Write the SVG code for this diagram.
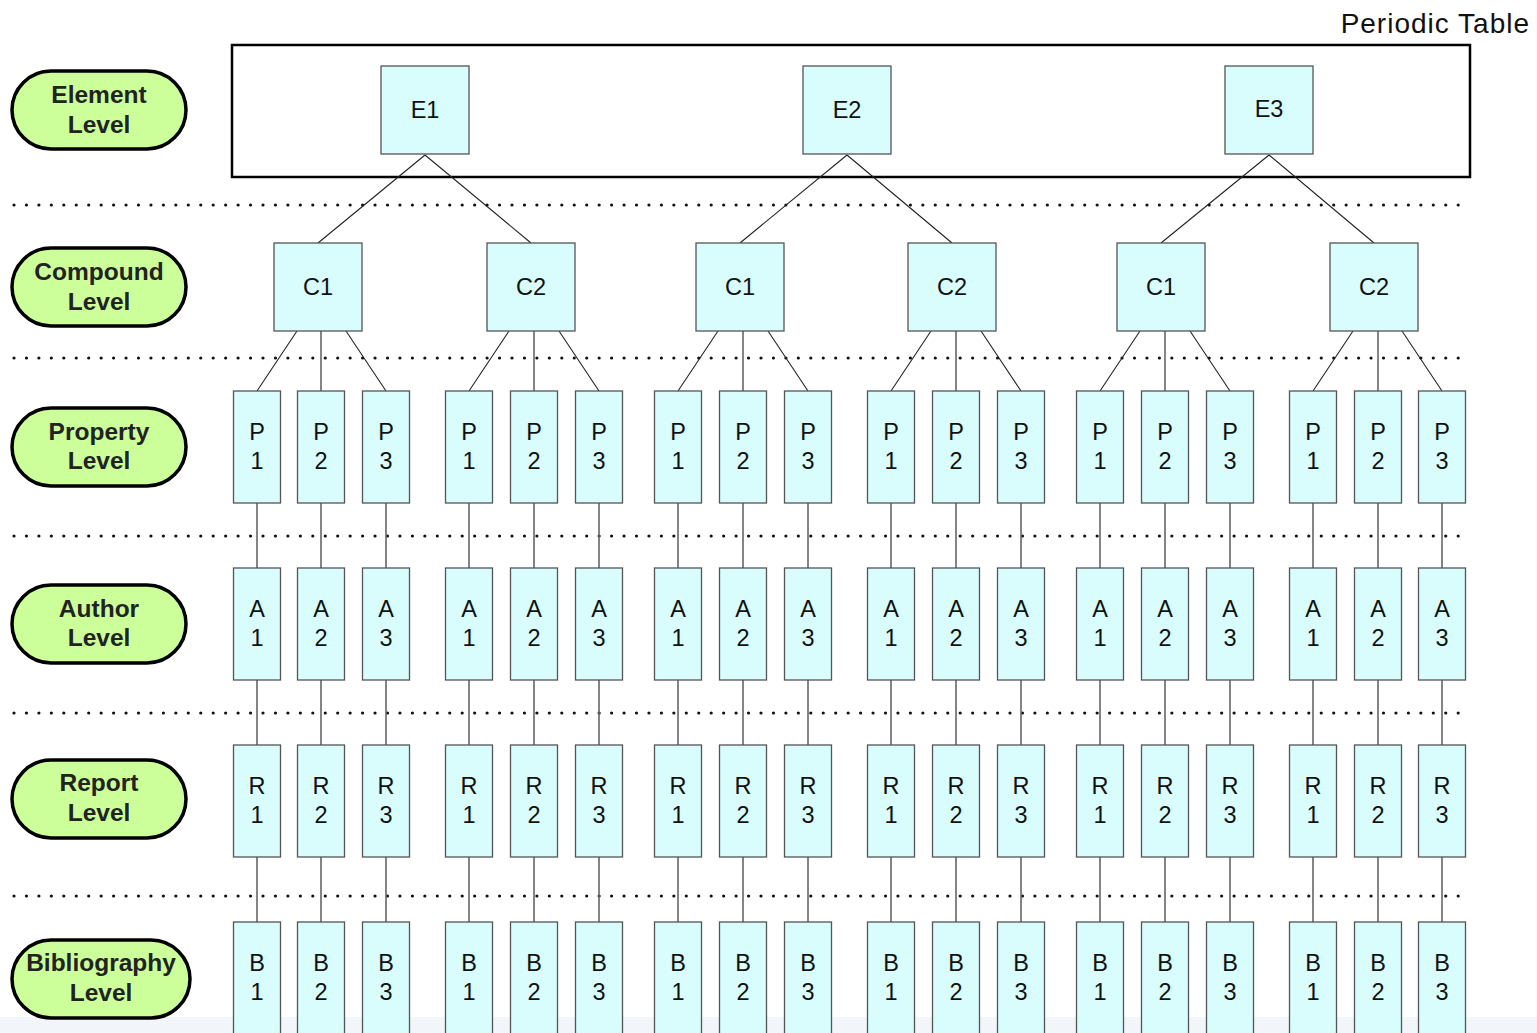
<svg xmlns="http://www.w3.org/2000/svg" width="1537" height="1033" viewBox="0 0 1537 1033">
<style>
.pill{fill:#ccff99;stroke:#000;stroke-width:3.5}
.pt{font-family:"Liberation Sans",Arial,sans-serif;font-weight:bold;font-size:24.5px;fill:#222;text-anchor:middle}
.bx{fill:#d9fdfd;stroke:#555;stroke-width:1.3}
.bt{font-family:"Liberation Sans",Arial,sans-serif;font-size:23.5px;fill:#111;text-anchor:middle}
.dot{stroke:#111;stroke-width:3.2;stroke-linecap:round;stroke-dasharray:0 12.45;fill:none}
.ln{stroke:#222;stroke-width:1.1;fill:none}
.vl{stroke:#666;stroke-width:1.6;fill:none}
</style>
<rect width="1537" height="1033" fill="#fff"/>
<rect x="0" y="1017" width="1537" height="16" fill="#f2f6fa"/>
<text x="1530" y="33" font-family="Liberation Sans,Arial,sans-serif" font-size="28" letter-spacing="1" fill="#111" text-anchor="end">Periodic Table</text>
<rect id="periodic-table" x="232" y="45" width="1238" height="132" fill="none" stroke="#000" stroke-width="2.5"/>
<g id="separators">
<line class="dot" x1="14" y1="205" x2="1468" y2="205"/>
<line class="dot" x1="14" y1="358" x2="1468" y2="358"/>
<line class="dot" x1="14" y1="536" x2="1468" y2="536"/>
<line class="dot" x1="14" y1="713" x2="1468" y2="713"/>
<line class="dot" x1="14" y1="896" x2="1468" y2="896"/>
</g>
<g id="level-labels">
<g id="lbl-element"><rect class="pill" x="12" y="71" width="174" height="78" rx="39"/><text class="pt" x="99" y="103">Element</text><text class="pt" x="99" y="133">Level</text></g>
<g id="lbl-compound"><rect class="pill" x="12" y="248" width="174" height="78" rx="39"/><text class="pt" x="99" y="280">Compound</text><text class="pt" x="99" y="310">Level</text></g>
<g id="lbl-property"><rect class="pill" x="12" y="408" width="174" height="78" rx="39"/><text class="pt" x="99" y="440">Property</text><text class="pt" x="99" y="469">Level</text></g>
<g id="lbl-author"><rect class="pill" x="12" y="585" width="174" height="78" rx="39"/><text class="pt" x="99" y="617">Author</text><text class="pt" x="99" y="646">Level</text></g>
<g id="lbl-report"><rect class="pill" x="12" y="760" width="174" height="78" rx="39"/><text class="pt" x="99" y="791">Report</text><text class="pt" x="99" y="821">Level</text></g>
<g id="lbl-bibliography"><rect class="pill" x="12" y="940" width="178" height="78" rx="39"/><text class="pt" x="101" y="971">Bibliography</text><text class="pt" x="101" y="1001">Level</text></g>
</g>
<g id="connectors">
<path class="ln" d="M425 155L318 243M425 155L531 243M847 155L740 243M847 155L952 243M1269 155L1161 243M1269 155L1374 243"/>
<path class="ln" d="M297 331L257 391M321 331V391M346 331L386 391 M509 331L469 391M534 331V391M559 331L599 391 M718 331L678 391M743 331V391M768 331L808 391 M931 331L891 391M956 331V391M981 331L1021 391 M1140 331L1100 391M1165 331V391M1190 331L1230 391 M1353 331L1313 391M1378 331V391M1402 331L1442 391"/>
<path class="vl" d="M257 503V568M257 680V745M257 857V922 M321 503V568M321 680V745M321 857V922 M386 503V568M386 680V745M386 857V922 M469 503V568M469 680V745M469 857V922 M534 503V568M534 680V745M534 857V922 M599 503V568M599 680V745M599 857V922 M678 503V568M678 680V745M678 857V922 M743 503V568M743 680V745M743 857V922 M808 503V568M808 680V745M808 857V922 M891 503V568M891 680V745M891 857V922 M956 503V568M956 680V745M956 857V922 M1021 503V568M1021 680V745M1021 857V922 M1100 503V568M1100 680V745M1100 857V922 M1165 503V568M1165 680V745M1165 857V922 M1230 503V568M1230 680V745M1230 857V922 M1313 503V568M1313 680V745M1313 857V922 M1378 503V568M1378 680V745M1378 857V922 M1442 503V568M1442 680V745M1442 857V922"/>
</g>
<g id="elements">
<g id="E1"><rect class="bx" x="381" y="66" width="88" height="88"/><text class="bt" x="425" y="118">E1</text></g>
<g id="E2"><rect class="bx" x="803" y="66" width="88" height="88"/><text class="bt" x="847" y="118">E2</text></g>
<g id="E3"><rect class="bx" x="1225" y="66" width="88" height="88"/><text class="bt" x="1269" y="117">E3</text></g>
</g>
<g id="compounds">
<g id="E1-C1"><rect class="bx" x="274" y="243" width="88" height="88"/><text class="bt" x="318" y="295">C1</text></g>
<g id="E1-C2"><rect class="bx" x="487" y="243" width="88" height="88"/><text class="bt" x="531" y="295">C2</text></g>
<g id="E2-C1"><rect class="bx" x="696" y="243" width="88" height="88"/><text class="bt" x="740" y="295">C1</text></g>
<g id="E2-C2"><rect class="bx" x="908" y="243" width="88" height="88"/><text class="bt" x="952" y="295">C2</text></g>
<g id="E3-C1"><rect class="bx" x="1117" y="243" width="88" height="88"/><text class="bt" x="1161" y="295">C1</text></g>
<g id="E3-C2"><rect class="bx" x="1330" y="243" width="88" height="88"/><text class="bt" x="1374" y="295">C2</text></g>
</g>
<g id="properties">
<g id="g1-P1"><rect class="bx" x="233.5" y="391" width="47" height="112"/><text class="bt" x="257" y="440">P</text><text class="bt" x="257" y="469">1</text></g>
<g id="g1-P2"><rect class="bx" x="297.5" y="391" width="47" height="112"/><text class="bt" x="321" y="440">P</text><text class="bt" x="321" y="469">2</text></g>
<g id="g1-P3"><rect class="bx" x="362.5" y="391" width="47" height="112"/><text class="bt" x="386" y="440">P</text><text class="bt" x="386" y="469">3</text></g>
<g id="g2-P1"><rect class="bx" x="445.5" y="391" width="47" height="112"/><text class="bt" x="469" y="440">P</text><text class="bt" x="469" y="469">1</text></g>
<g id="g2-P2"><rect class="bx" x="510.5" y="391" width="47" height="112"/><text class="bt" x="534" y="440">P</text><text class="bt" x="534" y="469">2</text></g>
<g id="g2-P3"><rect class="bx" x="575.5" y="391" width="47" height="112"/><text class="bt" x="599" y="440">P</text><text class="bt" x="599" y="469">3</text></g>
<g id="g3-P1"><rect class="bx" x="654.5" y="391" width="47" height="112"/><text class="bt" x="678" y="440">P</text><text class="bt" x="678" y="469">1</text></g>
<g id="g3-P2"><rect class="bx" x="719.5" y="391" width="47" height="112"/><text class="bt" x="743" y="440">P</text><text class="bt" x="743" y="469">2</text></g>
<g id="g3-P3"><rect class="bx" x="784.5" y="391" width="47" height="112"/><text class="bt" x="808" y="440">P</text><text class="bt" x="808" y="469">3</text></g>
<g id="g4-P1"><rect class="bx" x="867.5" y="391" width="47" height="112"/><text class="bt" x="891" y="440">P</text><text class="bt" x="891" y="469">1</text></g>
<g id="g4-P2"><rect class="bx" x="932.5" y="391" width="47" height="112"/><text class="bt" x="956" y="440">P</text><text class="bt" x="956" y="469">2</text></g>
<g id="g4-P3"><rect class="bx" x="997.5" y="391" width="47" height="112"/><text class="bt" x="1021" y="440">P</text><text class="bt" x="1021" y="469">3</text></g>
<g id="g5-P1"><rect class="bx" x="1076.5" y="391" width="47" height="112"/><text class="bt" x="1100" y="440">P</text><text class="bt" x="1100" y="469">1</text></g>
<g id="g5-P2"><rect class="bx" x="1141.5" y="391" width="47" height="112"/><text class="bt" x="1165" y="440">P</text><text class="bt" x="1165" y="469">2</text></g>
<g id="g5-P3"><rect class="bx" x="1206.5" y="391" width="47" height="112"/><text class="bt" x="1230" y="440">P</text><text class="bt" x="1230" y="469">3</text></g>
<g id="g6-P1"><rect class="bx" x="1289.5" y="391" width="47" height="112"/><text class="bt" x="1313" y="440">P</text><text class="bt" x="1313" y="469">1</text></g>
<g id="g6-P2"><rect class="bx" x="1354.5" y="391" width="47" height="112"/><text class="bt" x="1378" y="440">P</text><text class="bt" x="1378" y="469">2</text></g>
<g id="g6-P3"><rect class="bx" x="1418.5" y="391" width="47" height="112"/><text class="bt" x="1442" y="440">P</text><text class="bt" x="1442" y="469">3</text></g>
</g>
<g id="authors">
<g id="g1-A1"><rect class="bx" x="233.5" y="568" width="47" height="112"/><text class="bt" x="257" y="617">A</text><text class="bt" x="257" y="646">1</text></g>
<g id="g1-A2"><rect class="bx" x="297.5" y="568" width="47" height="112"/><text class="bt" x="321" y="617">A</text><text class="bt" x="321" y="646">2</text></g>
<g id="g1-A3"><rect class="bx" x="362.5" y="568" width="47" height="112"/><text class="bt" x="386" y="617">A</text><text class="bt" x="386" y="646">3</text></g>
<g id="g2-A1"><rect class="bx" x="445.5" y="568" width="47" height="112"/><text class="bt" x="469" y="617">A</text><text class="bt" x="469" y="646">1</text></g>
<g id="g2-A2"><rect class="bx" x="510.5" y="568" width="47" height="112"/><text class="bt" x="534" y="617">A</text><text class="bt" x="534" y="646">2</text></g>
<g id="g2-A3"><rect class="bx" x="575.5" y="568" width="47" height="112"/><text class="bt" x="599" y="617">A</text><text class="bt" x="599" y="646">3</text></g>
<g id="g3-A1"><rect class="bx" x="654.5" y="568" width="47" height="112"/><text class="bt" x="678" y="617">A</text><text class="bt" x="678" y="646">1</text></g>
<g id="g3-A2"><rect class="bx" x="719.5" y="568" width="47" height="112"/><text class="bt" x="743" y="617">A</text><text class="bt" x="743" y="646">2</text></g>
<g id="g3-A3"><rect class="bx" x="784.5" y="568" width="47" height="112"/><text class="bt" x="808" y="617">A</text><text class="bt" x="808" y="646">3</text></g>
<g id="g4-A1"><rect class="bx" x="867.5" y="568" width="47" height="112"/><text class="bt" x="891" y="617">A</text><text class="bt" x="891" y="646">1</text></g>
<g id="g4-A2"><rect class="bx" x="932.5" y="568" width="47" height="112"/><text class="bt" x="956" y="617">A</text><text class="bt" x="956" y="646">2</text></g>
<g id="g4-A3"><rect class="bx" x="997.5" y="568" width="47" height="112"/><text class="bt" x="1021" y="617">A</text><text class="bt" x="1021" y="646">3</text></g>
<g id="g5-A1"><rect class="bx" x="1076.5" y="568" width="47" height="112"/><text class="bt" x="1100" y="617">A</text><text class="bt" x="1100" y="646">1</text></g>
<g id="g5-A2"><rect class="bx" x="1141.5" y="568" width="47" height="112"/><text class="bt" x="1165" y="617">A</text><text class="bt" x="1165" y="646">2</text></g>
<g id="g5-A3"><rect class="bx" x="1206.5" y="568" width="47" height="112"/><text class="bt" x="1230" y="617">A</text><text class="bt" x="1230" y="646">3</text></g>
<g id="g6-A1"><rect class="bx" x="1289.5" y="568" width="47" height="112"/><text class="bt" x="1313" y="617">A</text><text class="bt" x="1313" y="646">1</text></g>
<g id="g6-A2"><rect class="bx" x="1354.5" y="568" width="47" height="112"/><text class="bt" x="1378" y="617">A</text><text class="bt" x="1378" y="646">2</text></g>
<g id="g6-A3"><rect class="bx" x="1418.5" y="568" width="47" height="112"/><text class="bt" x="1442" y="617">A</text><text class="bt" x="1442" y="646">3</text></g>
</g>
<g id="reports">
<g id="g1-R1"><rect class="bx" x="233.5" y="745" width="47" height="112"/><text class="bt" x="257" y="794">R</text><text class="bt" x="257" y="823">1</text></g>
<g id="g1-R2"><rect class="bx" x="297.5" y="745" width="47" height="112"/><text class="bt" x="321" y="794">R</text><text class="bt" x="321" y="823">2</text></g>
<g id="g1-R3"><rect class="bx" x="362.5" y="745" width="47" height="112"/><text class="bt" x="386" y="794">R</text><text class="bt" x="386" y="823">3</text></g>
<g id="g2-R1"><rect class="bx" x="445.5" y="745" width="47" height="112"/><text class="bt" x="469" y="794">R</text><text class="bt" x="469" y="823">1</text></g>
<g id="g2-R2"><rect class="bx" x="510.5" y="745" width="47" height="112"/><text class="bt" x="534" y="794">R</text><text class="bt" x="534" y="823">2</text></g>
<g id="g2-R3"><rect class="bx" x="575.5" y="745" width="47" height="112"/><text class="bt" x="599" y="794">R</text><text class="bt" x="599" y="823">3</text></g>
<g id="g3-R1"><rect class="bx" x="654.5" y="745" width="47" height="112"/><text class="bt" x="678" y="794">R</text><text class="bt" x="678" y="823">1</text></g>
<g id="g3-R2"><rect class="bx" x="719.5" y="745" width="47" height="112"/><text class="bt" x="743" y="794">R</text><text class="bt" x="743" y="823">2</text></g>
<g id="g3-R3"><rect class="bx" x="784.5" y="745" width="47" height="112"/><text class="bt" x="808" y="794">R</text><text class="bt" x="808" y="823">3</text></g>
<g id="g4-R1"><rect class="bx" x="867.5" y="745" width="47" height="112"/><text class="bt" x="891" y="794">R</text><text class="bt" x="891" y="823">1</text></g>
<g id="g4-R2"><rect class="bx" x="932.5" y="745" width="47" height="112"/><text class="bt" x="956" y="794">R</text><text class="bt" x="956" y="823">2</text></g>
<g id="g4-R3"><rect class="bx" x="997.5" y="745" width="47" height="112"/><text class="bt" x="1021" y="794">R</text><text class="bt" x="1021" y="823">3</text></g>
<g id="g5-R1"><rect class="bx" x="1076.5" y="745" width="47" height="112"/><text class="bt" x="1100" y="794">R</text><text class="bt" x="1100" y="823">1</text></g>
<g id="g5-R2"><rect class="bx" x="1141.5" y="745" width="47" height="112"/><text class="bt" x="1165" y="794">R</text><text class="bt" x="1165" y="823">2</text></g>
<g id="g5-R3"><rect class="bx" x="1206.5" y="745" width="47" height="112"/><text class="bt" x="1230" y="794">R</text><text class="bt" x="1230" y="823">3</text></g>
<g id="g6-R1"><rect class="bx" x="1289.5" y="745" width="47" height="112"/><text class="bt" x="1313" y="794">R</text><text class="bt" x="1313" y="823">1</text></g>
<g id="g6-R2"><rect class="bx" x="1354.5" y="745" width="47" height="112"/><text class="bt" x="1378" y="794">R</text><text class="bt" x="1378" y="823">2</text></g>
<g id="g6-R3"><rect class="bx" x="1418.5" y="745" width="47" height="112"/><text class="bt" x="1442" y="794">R</text><text class="bt" x="1442" y="823">3</text></g>
</g>
<g id="bibliographies">
<g id="g1-B1"><rect class="bx" x="233.5" y="922" width="47" height="120"/><text class="bt" x="257" y="971">B</text><text class="bt" x="257" y="1000">1</text></g>
<g id="g1-B2"><rect class="bx" x="297.5" y="922" width="47" height="120"/><text class="bt" x="321" y="971">B</text><text class="bt" x="321" y="1000">2</text></g>
<g id="g1-B3"><rect class="bx" x="362.5" y="922" width="47" height="120"/><text class="bt" x="386" y="971">B</text><text class="bt" x="386" y="1000">3</text></g>
<g id="g2-B1"><rect class="bx" x="445.5" y="922" width="47" height="120"/><text class="bt" x="469" y="971">B</text><text class="bt" x="469" y="1000">1</text></g>
<g id="g2-B2"><rect class="bx" x="510.5" y="922" width="47" height="120"/><text class="bt" x="534" y="971">B</text><text class="bt" x="534" y="1000">2</text></g>
<g id="g2-B3"><rect class="bx" x="575.5" y="922" width="47" height="120"/><text class="bt" x="599" y="971">B</text><text class="bt" x="599" y="1000">3</text></g>
<g id="g3-B1"><rect class="bx" x="654.5" y="922" width="47" height="120"/><text class="bt" x="678" y="971">B</text><text class="bt" x="678" y="1000">1</text></g>
<g id="g3-B2"><rect class="bx" x="719.5" y="922" width="47" height="120"/><text class="bt" x="743" y="971">B</text><text class="bt" x="743" y="1000">2</text></g>
<g id="g3-B3"><rect class="bx" x="784.5" y="922" width="47" height="120"/><text class="bt" x="808" y="971">B</text><text class="bt" x="808" y="1000">3</text></g>
<g id="g4-B1"><rect class="bx" x="867.5" y="922" width="47" height="120"/><text class="bt" x="891" y="971">B</text><text class="bt" x="891" y="1000">1</text></g>
<g id="g4-B2"><rect class="bx" x="932.5" y="922" width="47" height="120"/><text class="bt" x="956" y="971">B</text><text class="bt" x="956" y="1000">2</text></g>
<g id="g4-B3"><rect class="bx" x="997.5" y="922" width="47" height="120"/><text class="bt" x="1021" y="971">B</text><text class="bt" x="1021" y="1000">3</text></g>
<g id="g5-B1"><rect class="bx" x="1076.5" y="922" width="47" height="120"/><text class="bt" x="1100" y="971">B</text><text class="bt" x="1100" y="1000">1</text></g>
<g id="g5-B2"><rect class="bx" x="1141.5" y="922" width="47" height="120"/><text class="bt" x="1165" y="971">B</text><text class="bt" x="1165" y="1000">2</text></g>
<g id="g5-B3"><rect class="bx" x="1206.5" y="922" width="47" height="120"/><text class="bt" x="1230" y="971">B</text><text class="bt" x="1230" y="1000">3</text></g>
<g id="g6-B1"><rect class="bx" x="1289.5" y="922" width="47" height="120"/><text class="bt" x="1313" y="971">B</text><text class="bt" x="1313" y="1000">1</text></g>
<g id="g6-B2"><rect class="bx" x="1354.5" y="922" width="47" height="120"/><text class="bt" x="1378" y="971">B</text><text class="bt" x="1378" y="1000">2</text></g>
<g id="g6-B3"><rect class="bx" x="1418.5" y="922" width="47" height="120"/><text class="bt" x="1442" y="971">B</text><text class="bt" x="1442" y="1000">3</text></g>
</g>
</svg>
